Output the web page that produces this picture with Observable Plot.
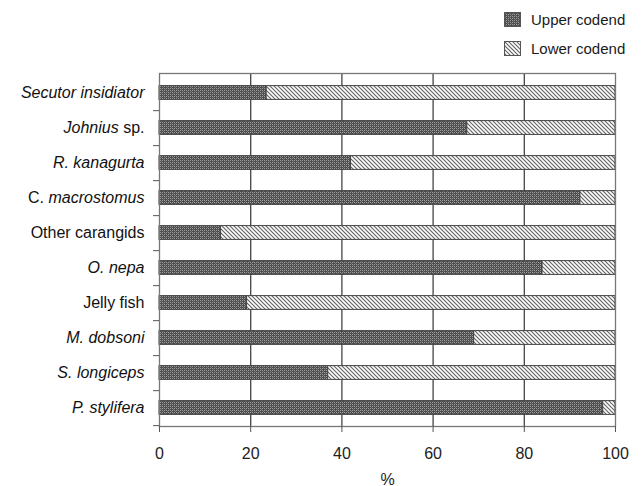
<!DOCTYPE html>
<html><head><meta charset="utf-8">
<script src="https://cdn.jsdelivr.net/npm/d3@7"></script>
<script src="https://cdn.jsdelivr.net/npm/@observablehq/plot@0.6"></script>
<style>
body{margin:0;background:#fff;font-family:"Liberation Sans",Arial,sans-serif;}
#wrap{position:relative;width:643px;height:486px;}
.leg{position:absolute;left:504px;font-size:15px;color:#1a1a1a;display:flex;align-items:center;height:16px;}
.leg svg{margin-right:10px;}
</style></head>
<body><div id="wrap"></div>
<script>
const species = ["Secutor insidiator","Johnius sp.","R. kanagurta","C. macrostomus","Other carangids","O. nepa","Jelly fish","M. dobsoni","S. longiceps","P. stylifera"];
const italicPart = ["Secutor insidiator","Johnius","R. kanagurta","macrostomus","","O. nepa","","M. dobsoni","S. longiceps","P. stylifera"];
const upper = [23.5,67.5,42,92.3,13.5,84,19.2,69,37,97.3];
const series = ["Upper codend","Lower codend"];
const xTicks = [0,20,40,60,80,100];

const data = [];
species.forEach((s,i)=>{
  data.push({species:s, codend:series[0], value:upper[i]});
  data.push({species:s, codend:series[1], value:100-upper[i]});
});

const svg = Plot.plot({
  width:643, height:486,
  marginLeft:159, marginRight:28, marginTop:73, marginBottom:60,
  style:{fontFamily:'"Liberation Sans",Arial,sans-serif', background:"#fff"},
  x:{domain:[0,100]},
  y:{domain:species, padding:0},
  color:{domain:series, range:["url(#patUpper)","url(#patLower)"]},
  marks:[
    Plot.gridX(xTicks.slice(1,-1), {stroke:"#444", strokeOpacity:1, strokeWidth:1.3}),
    Plot.barX(data, Plot.stackX({y:"species", x:"value", fill:"codend", order:null,
      stroke:"#444", strokeWidth:1, insetTop:10.6, insetBottom:10.6})),
    Plot.frame({stroke:"#777", strokeWidth:1.3}),
    Plot.axisX({ticks:xTicks, tickSize:6, tickPadding:15, fontSize:16, stroke:"#555", color:"#222",
      label:"%", labelAnchor:"center", labelOffset:58, labelArrow:"none"}),
    Plot.axisY({tickSize:0, tickPadding:15, fontSize:16, color:"#111", label:null}),
    Plot.axisY({tickSize:6, text:null, dy:17.65, stroke:"#555", label:null})
  ]
});

// pattern defs
const defs = d3.select(svg).insert("defs", ":first-child");
const pu = defs.append("pattern").attr("id","patUpper").attr("patternUnits","userSpaceOnUse")
  .attr("width",4).attr("height",4);
pu.append("rect").attr("width",4).attr("height",4).attr("fill","#4c4c4c");
[[0,0],[2,0],[0,2],[2,2]].forEach(([x,y])=>
  pu.append("rect").attr("x",x).attr("y",y).attr("width",1).attr("height",1).attr("fill","#a0a0a0"));
pu.append("rect").attr("x",1).attr("y",1).attr("width",1).attr("height",1).attr("fill","#707070");
pu.append("rect").attr("x",3).attr("y",3).attr("width",1).attr("height",1).attr("fill","#707070");
const pl = defs.append("pattern").attr("id","patLower").attr("patternUnits","userSpaceOnUse")
  .attr("width",4).attr("height",4);
pl.append("rect").attr("width",4).attr("height",4).attr("fill","#fff");
pl.append("path").attr("d","M-1,-1L5,5M-1,3L1,5M3,-1L5,1").attr("stroke","#666").attr("stroke-width",1.2);

// mixed italic tick labels
d3.select(svg).selectAll("g[aria-label='y-axis tick label'] text").each(function(){
  const t = d3.select(this);
  const s = t.text();
  const i = species.indexOf(s);
  const it = i >= 0 ? italicPart[i] : "";
  t.text(null);
  if (!it) { t.append("tspan").text(s); return; }
  const k = s.indexOf(it);
  const before = s.slice(0,k), after = s.slice(k+it.length);
  if (before) t.append("tspan").text(before);
  t.append("tspan").attr("font-style","italic").text(it);
  if (after) t.append("tspan").text(after);
});

const wrap = document.getElementById("wrap");
wrap.appendChild(svg);

// legend
const legTops = [11, 40];
series.forEach((s,i)=>{
  const d = document.createElement("div");
  d.className = "leg";
  d.style.top = legTops[i] + "px";
  d.innerHTML = `<svg width="17" height="15"><rect x="0.5" y="0.5" width="16" height="14" fill="url(#${i===0?'patUpper':'patLower'})" stroke="#555"/></svg><span>${s}</span>`;
  wrap.appendChild(d);
});
</script>
</body></html>
